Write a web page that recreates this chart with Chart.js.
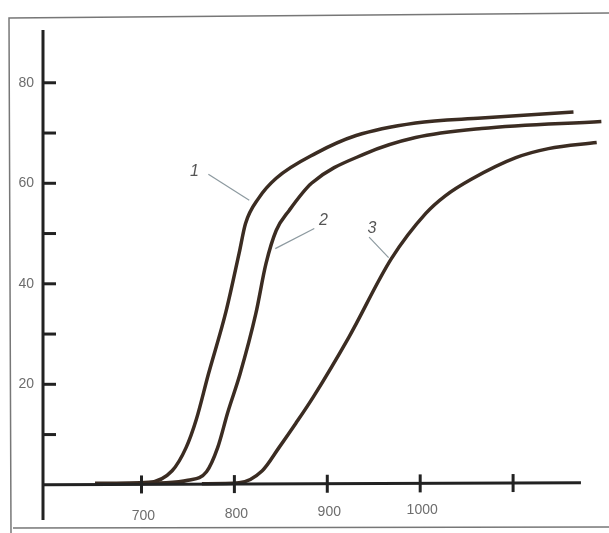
<!DOCTYPE html>
<html>
<head>
<meta charset="utf-8">
<script src="https://cdn.jsdelivr.net/npm/chart.js@4"></script>
<style>
  html, body { margin: 0; padding: 0; background: #fff; }
  #wrap { width: 609px; height: 533px; position: relative; }
</style>
</head>
<body>
<div id="wrap"><canvas id="chart"></canvas></div>
<script>
// curve data (x = temperature, y = value)
const curve1X = [650, 708, 733, 748, 759, 772, 791, 805, 812, 826, 845, 888, 931, 995, 1066, 1165];
const curve1Y = [0.3, 0.5, 2.8, 7.4, 13.0, 22.0, 34.5, 46.0, 52.0, 57.0, 61.0, 66.0, 69.5, 72.0, 73.0, 74.2];

const curve2X = [715, 750, 770, 782, 793, 806, 823, 834, 845, 859, 883, 941, 995, 1066, 1195];
const curve2Y = [0.3, 0.9, 2.6, 7.4, 14.5, 22.0, 34.0, 44.0, 50.6, 54.6, 60.0, 65.9, 69.1, 70.9, 72.3];

const curve3X = [765, 805, 830, 848, 866, 885, 923, 969, 1006, 1027, 1055, 1103, 1138, 1190];
const curve3Y = [0.2, 0.4, 2.8, 7.4, 12.2, 17.5, 29.3, 45.0, 54.0, 57.5, 60.8, 65.1, 66.9, 68.1];

const xTicks = [700, 800, 900, 1000, 1100];
const xTickLabels = ['700', '800', '900', '1000', ''];
const yTicks = [10, 20, 30, 40, 50, 60, 70, 80];
const yTickLabels = ['', '20', '', '40', '', '60', '', '80'];

// curve labels: text, label position, leader start, leader end (data units)
const curveLabels = [
    { text: '1', at: [757, 62.3], from: [772, 61.8], to: [816, 56.6] },
    { text: '2', at: [896, 52.5], from: [886, 51.0], to: [844, 47.0] },
    { text: '3', at: [948, 50.9], from: [945, 49.3], to: [966, 45.2] }
];

function toPoints(xs, ys) {
    return xs.map((x, i) => ({ x: x, y: ys[i] }));
}

const lineColor = '#3b2c22';
const inkGrey = '#6d6d6d';

const axesPlugin = {
    id: 'axesPlugin',
    beforeDraw(chart) {
        const c = chart.ctx;
        c.save();
        c.fillStyle = '#fff';
        c.fillRect(0, 0, chart.width, chart.height);
        // scanned page frame
        c.strokeStyle = '#777';
        c.lineWidth = 1.5;
        c.beginPath();
        c.moveTo(11, 533);
        c.lineTo(9, 18);
        c.lineTo(609, 13);
        c.stroke();
        c.beginPath();
        c.moveTo(13, 528);
        c.lineTo(609, 527);
        c.stroke();
        c.restore();
    },
    afterDatasetsDraw(chart) {
        const c = chart.ctx;
        const xs = chart.scales.x, ys = chart.scales.y;
        const x0 = xs.getPixelForValue(594);
        const y0 = ys.getPixelForValue(0);
        c.save();
        c.strokeStyle = '#222';
        c.lineCap = 'butt';
        // y axis
        c.lineWidth = 3;
        c.beginPath();
        c.moveTo(x0, ys.getPixelForValue(90.5));
        c.lineTo(x0, ys.getPixelForValue(-7));
        c.stroke();
        // x axis
        c.beginPath();
        c.moveTo(x0, y0);
        c.lineTo(xs.getPixelForValue(1173), y0 - 2);
        c.stroke();
        // y ticks
        c.lineWidth = 3;
        c.font = '14px "Liberation Sans", Arial, sans-serif';
        c.fillStyle = inkGrey;
        c.textAlign = 'right';
        c.textBaseline = 'middle';
        yTicks.forEach((v, i) => {
            const py = ys.getPixelForValue(v);
            c.beginPath();
            c.moveTo(x0, py);
            c.lineTo(x0 + 13, py);
            c.stroke();
            if (yTickLabels[i]) c.fillText(yTickLabels[i], x0 - 9, py);
        });
        // x ticks
        c.textAlign = 'center';
        c.textBaseline = 'alphabetic';
        xTicks.forEach((v, i) => {
            const px = xs.getPixelForValue(v);
            const py = y0 - (v - 594) * 0.0035;
            c.beginPath();
            c.moveTo(px, py - 9);
            c.lineTo(px, py + 9);
            c.stroke();
            if (xTickLabels[i]) c.fillText(xTickLabels[i], px + 2, 520 - (v - 700) * 0.02);
        });
        // curve labels with leader lines
        c.font = 'italic 16px "Liberation Sans", Arial, sans-serif';
        c.textBaseline = 'middle';
        curveLabels.forEach(l => {
            c.strokeStyle = '#8d9aa0';
            c.lineWidth = 1.2;
            c.beginPath();
            c.moveTo(xs.getPixelForValue(l.from[0]), ys.getPixelForValue(l.from[1]));
            c.lineTo(xs.getPixelForValue(l.to[0]), ys.getPixelForValue(l.to[1]));
            c.stroke();
            c.fillStyle = '#555';
            c.fillText(l.text, xs.getPixelForValue(l.at[0]), ys.getPixelForValue(l.at[1]));
        });
        c.restore();
    }
};

function curveDataset(xs, ys) {
    return {
        data: toPoints(xs, ys),
        showLine: true,
        borderColor: lineColor,
        borderWidth: 3.5,
        pointRadius: 0,
        cubicInterpolationMode: 'monotone',
        fill: false
    };
}

const ctx = document.getElementById('chart').getContext('2d');
new Chart(ctx, {
    type: 'scatter',
    data: {
        datasets: [
            curveDataset(curve1X, curve1Y),
            curveDataset(curve2X, curve2Y),
            curveDataset(curve3X, curve3Y)
        ]
    },
    options: {
        responsive: true,
        maintainAspectRatio: false,
        animation: false,
        layout: { padding: { left: 43, right: 3, top: 30, bottom: 13 } },
        plugins: {
            legend: { display: false },
            tooltip: { enabled: false }
        },
        scales: {
            x: { type: 'linear', min: 594, max: 1200, display: false },
            y: { type: 'linear', min: -7, max: 90.5, display: false }
        }
    },
    plugins: [axesPlugin]
});
</script>
</body>
</html>
